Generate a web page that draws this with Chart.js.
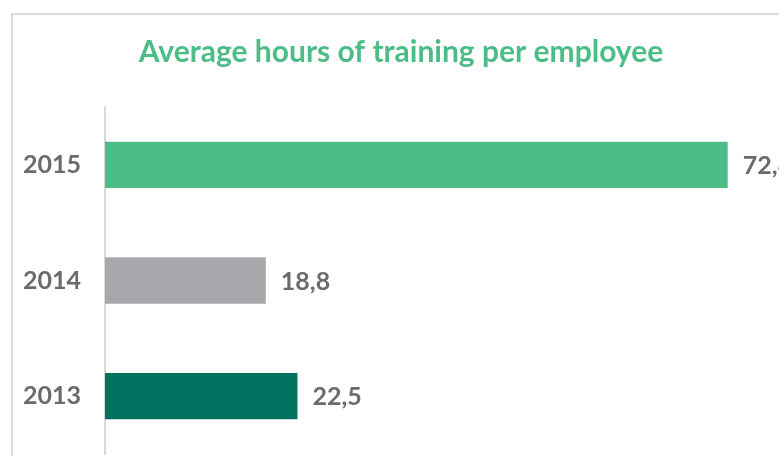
<!DOCTYPE html>
<html>
<head>
<meta charset="utf-8">
<script src="https://cdn.jsdelivr.net/npm/chart.js@4.4.1/dist/chart.umd.min.js"></script>
<style>
  html, body { margin: 0; padding: 0; background: #fff; overflow: hidden; }
  #wrap { position: relative; width: 779px; height: 456px; }
  #frame {
    position: absolute; left: 11px; top: 13px; width: 900px; height: 600px;
    border-left: 2px solid #dcdcdc; border-top: 2px solid #dcdcdc;
  }
  #chart { position: absolute; left: 0; top: 0; }
</style>
</head>
<body>
<div id="wrap">
  <div id="frame"></div>
  <canvas id="chart" width="779" height="456"></canvas>
</div>
<script>
// ============================================================
// Average hours of training per employee — horizontal bars
// ============================================================

const YEARS = ['2015', '2014', '2013'];
const HOURS = [72.8, 18.8, 22.5];
const BAR_COLORS = ['#4dbd87', '#a7a8ab', '#00705f'];
const TITLE = 'Average hours of training per employee';

const LABEL_GRAY = '#6b6b6b';
const FONT = 'Lato';

// value labels written after the bar, decimal comma
const valueLabels = {
  id: 'valueLabels',
  afterDatasetsDraw(chart) {
    const { ctx } = chart;
    const meta = chart.getDatasetMeta(0);
    ctx.save();
    ctx.font = `bold 25px ${FONT}`;
    ctx.fillStyle = LABEL_GRAY;
    ctx.textBaseline = 'middle';
    ctx.textAlign = 'left';
    meta.data.forEach((bar, i) => {
      const txt = HOURS[i].toFixed(1).replace('.', ',');
      ctx.fillText(txt, bar.x + 15, bar.y + 1);
    });
    ctx.restore();
  }
};

const chart = new Chart(document.getElementById('chart'), {
  type: 'bar',
  data: {
    labels: YEARS,
    datasets: [{
      data: HOURS,
      backgroundColor: BAR_COLORS,
      borderWidth: 0,
      categoryPercentage: 1,
      barPercentage: 0.4,
    }]
  },
  options: {
    indexAxis: 'y',
    responsive: false,
    animation: false,
    layout: { padding: { left: 23, right: 0, top: 0, bottom: 2 } },
    plugins: {
      legend: { display: false },
      tooltip: { enabled: false },
      title: {
        display: true,
        text: TITLE,
        color: '#4dbd87',
        font: { family: FONT, size: 30, weight: 'bold' },
        padding: { top: 34, bottom: 37 },
      }
    },
    scales: {
      x: { display: false, min: 0, max: 78.8 },
      y: {
        afterFit: s => { s.width = 82; s.paddingTop = 0; s.paddingBottom = 0; },
        grid: { display: false },
        border: { display: true, color: '#d9d9d9', width: 2 },
        ticks: {
          color: LABEL_GRAY,
          crossAlign: 'far',
          font: { family: FONT, size: 25, weight: 'bold' },
        }
      }
    }
  },
  plugins: [valueLabels]
});
</script>
</body>
</html>
